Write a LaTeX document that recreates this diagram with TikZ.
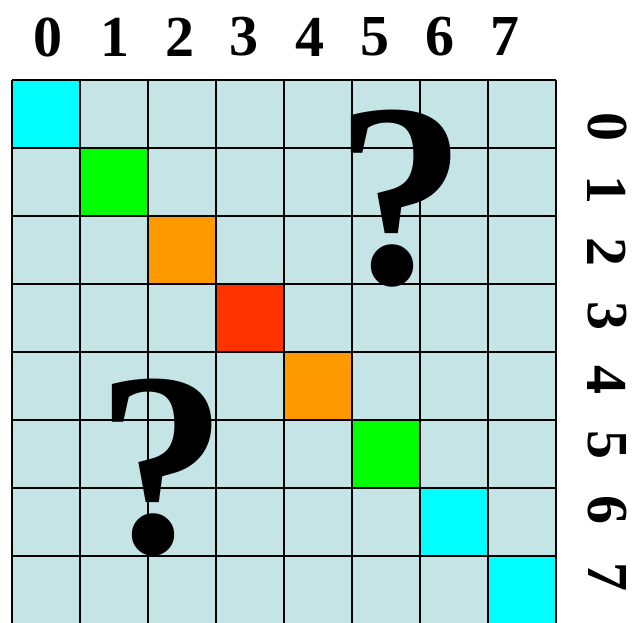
\documentclass[tikz,border=0pt]{standalone}
\usepackage{fontspec}
\setmainfont{Liberation Serif}
\definecolor{gridblue}{RGB}{196,228,230}
\definecolor{diagcyan}{RGB}{0,255,255}
\definecolor{diaggreen}{RGB}{0,255,0}
\definecolor{diagorange}{RGB}{255,153,0}
\definecolor{diagred}{RGB}{255,51,0}
\tikzset{
  board/.style={fill=gridblue},
  diag cell/.style={minimum size=68pt, inner sep=0pt, outer sep=0pt},
  grid line/.style={line width=1.6pt, draw=black},
  idx label/.style={
    font=\bfseries\fontsize{58}{58}\selectfont,
    inner sep=0pt,
  },
  query mark/.style={
    font=\bfseries\fontsize{262}{262}\selectfont,
    inner sep=0pt,
  },
}
\begin{document}
\begin{tikzpicture}[x=1pt,y=-1pt]
  \useasboundingbox (0,0) rectangle (637,623);
  \begin{scope}
    \clip (0,0) rectangle (637,623);
    % board and the coloured diagonal
    \fill[board] (12,80) rectangle (556,624);
    \foreach \i/\c in {0/diagcyan,1/diaggreen,2/diagorange,3/diagred,
                       4/diagorange,5/diaggreen,6/diagcyan,7/diagcyan}
      \node[diag cell,fill=\c] (d\i) at (46+68*\i,114+68*\i) {};
    % grid lines
    \foreach \k in {0,...,8} {
      \draw[grid line] (12+68*\k,80) -- (12+68*\k,624);
      \draw[grid line] (12,80+68*\k) -- (556,80+68*\k);
    }
  \end{scope}

  % column and row indices
  \foreach \i/\x in {0/48,1/115,2/180,3/244,4/310,5/375,6/440,7/505}
    \node[idx label] (col\i) at (\x,37) {\i};
  \foreach \i/\y in {0/127,1/190,2/252,3/316,4/380,5/445,6/510,7/577}
    \node[idx label,rotate=-90] (row\i) at (607,\y) {\i};

  % unknown entries
  \node[query mark] (qup) at (401,199) {?};
  \node[query mark] (qlow) at (162,468) {?};
\end{tikzpicture}
\end{document}
